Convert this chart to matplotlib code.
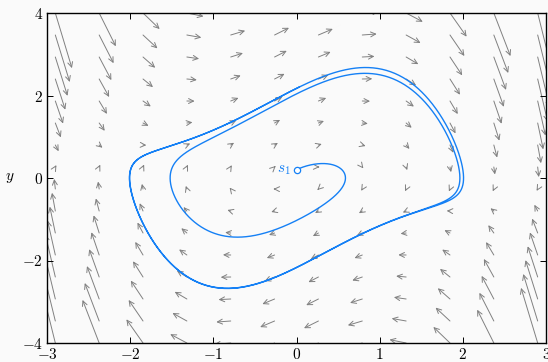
import numpy as np
import matplotlib
matplotlib.use("Agg")
import matplotlib.pyplot as plt
from matplotlib.patches import FancyArrowPatch

plt.rcParams['mathtext.fontset'] = 'cm'
plt.rcParams['font.family'] = ['DejaVu Serif']

# --- model / data -----------------------------------------------------
MU = 1.0                       # Van der Pol parameter
S1 = (0.0, 0.2)                # start point of trajectory
T_END = 20.0                   # integration time
ARROW_SCALE = 0.05             # quiver scaling
X_GRID = [-2.9, -2.3727, -1.8455, -1.3182, -0.7909, -0.2636,
          0.2636, 0.7909, 1.3182, 1.8455, 2.3727, 2.9]
Y_GRID = [-4.0, -3.4667, -2.9333, -2.4, -1.8667, -1.3333, -0.8, -0.2667,
          0.2667, 0.8, 1.3333, 1.8667, 2.4, 2.9333, 3.4667, 4.0]
X_TICKS = [-3, -2, -1, 0, 1, 2, 3]
Y_TICKS = [-4, -2, 0, 2, 4]


def field(x, y):
    return y, MU * (1 - x ** 2) * y - x


def integrate(p0, t_end, dt=0.005):
    pts = [p0]
    x, y = p0
    for _ in range(int(t_end / dt)):
        k1 = field(x, y)
        k2 = field(x + dt / 2 * k1[0], y + dt / 2 * k1[1])
        k3 = field(x + dt / 2 * k2[0], y + dt / 2 * k2[1])
        k4 = field(x + dt * k3[0], y + dt * k3[1])
        x += dt / 6 * (k1[0] + 2 * k2[0] + 2 * k3[0] + k4[0])
        y += dt / 6 * (k1[1] + 2 * k2[1] + 2 * k3[1] + k4[1])
        pts.append((x, y))
    return np.array(pts)


BLUE = '#1580f5'
GRAY = '#808080'
BG = '#fafafa'

fig = plt.figure(figsize=(5.48, 3.62), dpi=100, facecolor=BG)
ax = fig.add_axes([47 / 548, 19 / 362, 499 / 548, 330 / 362])
ax.set_facecolor(BG)
ax.set_xlim(-3, 3)
ax.set_ylim(-4, 4)

for xg in X_GRID:
    for yg in Y_GRID:
        u, v = field(xg, yg)
        arr = FancyArrowPatch((xg, yg), (xg + ARROW_SCALE * u, yg + ARROW_SCALE * v),
                              arrowstyle='->,head_length=0.45,head_width=0.22',
                              mutation_scale=8, color=GRAY, lw=0.7,
                              shrinkA=0, shrinkB=0, zorder=1)
        ax.add_patch(arr)

traj = integrate(S1, T_END)
ax.plot(traj[:, 0], traj[:, 1], color=BLUE, lw=1.0, zorder=3)
ax.plot([S1[0]], [S1[1]], 'o', ms=4.5, mfc='white', mec=BLUE, mew=0.9, zorder=4)
ax.annotate('$s_1$', xy=S1, xytext=(-4, 0), textcoords='offset points',
            ha='right', va='center', color=BLUE, fontsize=11, zorder=4)

ax.set_xticks(X_TICKS)
ax.set_xticklabels([f'${v}$' for v in X_TICKS])
ax.set_yticks(Y_TICKS)
ax.set_yticklabels([f'${v}$' for v in Y_TICKS])
ax.tick_params(direction='in', top=True, right=True, length=4, width=0.7,
               labelsize=11, pad=3)
for s in ax.spines.values():
    s.set_linewidth(1.0)
ax.set_ylabel('$y$', rotation=0, fontsize=11, ha='center', va='center')
ax.yaxis.set_label_coords(-0.074, 0.5)

fig.savefig('out.png', dpi=100, facecolor=BG)
